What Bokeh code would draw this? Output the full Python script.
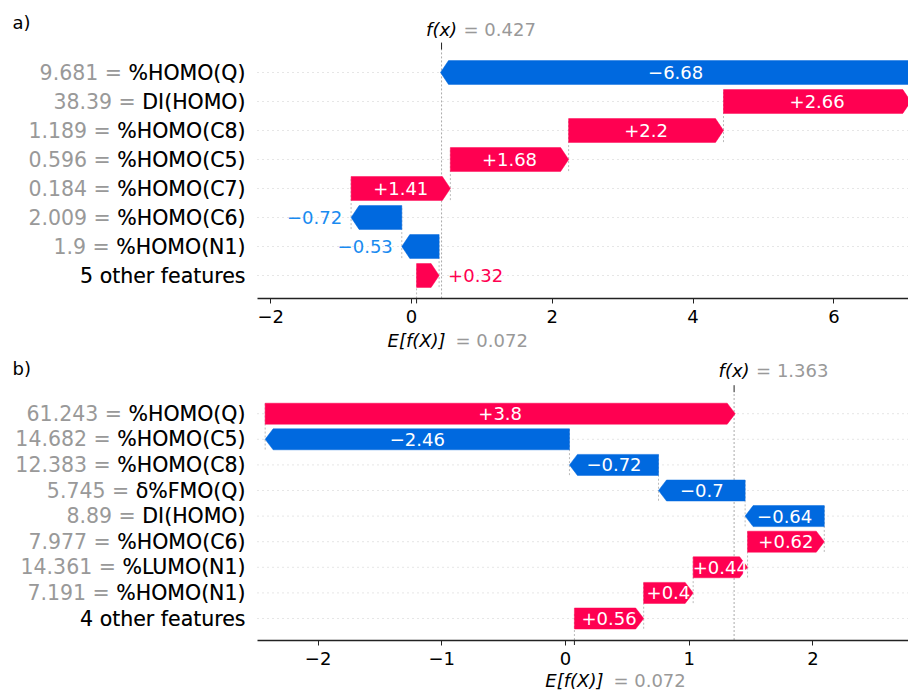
import math
from bokeh.plotting import figure
from bokeh.models import (ColumnDataSource, FixedTicker, LinearAxis, Range1d,
                          CustomJSTickFormatter)
from bokeh.layouts import column
from bokeh.core.properties import value
from bokeh.embed import file_html
from bokeh.resources import INLINE

# ---------------- data ----------------
# panel a)
a_feature_values = ["9.681", "38.39", "1.189", "0.596", "0.184", "2.009", "1.9", ""]
a_feature_names = ["%HOMO(Q)", "DI(HOMO)", "%HOMO(C8)", "%HOMO(C5)", "%HOMO(C7)",
                   "%HOMO(C6)", "%HOMO(N1)", "5 other features"]
a_shap = [-6.68, 2.66, 2.2, 1.68, 1.41, -0.72, -0.53, 0.32]
a_base = 0.072
a_fx = 0.427
a_ticks = [-2, 0, 2, 4, 6]

# panel b)
b_feature_values = ["61.243", "14.682", "12.383", "5.745", "8.89", "7.977", "14.361", "7.191", ""]
b_feature_names = ["%HOMO(Q)", "%HOMO(C5)", "%HOMO(C8)", "\u03b4%FMO(Q)", "DI(HOMO)",
                   "%HOMO(C6)", "%LUMO(N1)", "%HOMO(N1)", "4 other features"]
b_shap = [3.8, -2.46, -0.72, -0.7, -0.64, 0.62, 0.44, 0.4, 0.56]
b_base = 0.072
b_fx = 1.363
b_ticks = [-2, -1, 0, 1, 2]

# ---------------- style ----------------
RED = "#FF0051"
BLUE_BAR = "#0069DF"
BLUE_TXT = "#1A8BF0"
GRAY = "#999999"
FONT = "DejaVu Sans"
W = 908
MINUS = "\u2212"


def em_width(s):
    w = 0.0
    for ch in s:
        if ch in "+-\u2212=":
            w += 0.838
        elif ch == ".":
            w += 0.318
        else:
            w += 0.636
    return w


def fmt(v):
    return ("+" if v >= 0 else MINUS) + f"{abs(v):g}"


def build(tag, fvals, fnames, shap, base, fx, ticks, x_zero_px, ppu, H, row0_px, s,
          tag_dy, fx_dy, e_dy, data_left_px=257):
    n = len(shap)
    rows = [n - 1 - i for i in range(n)]
    starts = [0.0] * n
    ends = [0.0] * n
    loc = base
    for i in reversed(range(n)):
        starts[i] = loc
        loc += shap[i]
        ends[i] = loc

    # x range covers whole canvas; data area starts at data_left
    xr = (-x_zero_px / ppu, (W - x_zero_px) / ppu)
    data_left = (data_left_px - x_zero_px) / ppu
    yr = (-(H - row0_px) / s, row0_px / s)
    marg = 0.05 * (n - 0.2)
    axis_y = -0.4 - marg
    top_y = n - 1 + 0.4 + marg

    p = figure(width=W, height=H, x_range=Range1d(*xr), y_range=Range1d(*yr),
               output_backend="svg", toolbar_location=None,
               x_axis_location=None, y_axis_location=None,
               min_border=0)
    p.outline_line_color = None
    p.grid.visible = False

    hl = 8.0 / ppu
    h = 0.82

    # row dotted lines
    p.segment(x0=[data_left] * n, y0=rows, x1=[xr[1]] * n, y1=rows,
              line_color="#cccccc", line_dash="1 4", line_width=1)

    # connectors
    cx, cy0, cy1 = [], [], []
    for i in range(n - 1):
        cx.append(starts[i])
        cy0.append(rows[i] - 1 - 0.4)
        cy1.append(rows[i] + 0.4)
    p.segment(x0=cx, y0=cy0, x1=cx, y1=cy1, line_color="#bbbbbb",
              line_dash="2 2", line_width=1)

    # f(x) line and E[f(X)] line
    p.segment(x0=[fx], y0=[axis_y], x1=[fx], y1=[top_y], line_color="#aaaaaa",
              line_dash="2 2", line_width=1)
    p.segment(x0=[base], y0=[axis_y], x1=[base], y1=[axis_y + (top_y - axis_y) / n],
              line_color="#bbbbbb", line_dash="2 2", line_width=1)
    # f(x) tick above data area, E[f(X)] tick below axis
    p.ray(x=[fx], y=[top_y], length=7, length_units="screen", angle=math.pi / 2,
          line_color="#222222", line_width=1)
    p.ray(x=[base], y=[axis_y], length=5, length_units="screen", angle=-math.pi / 2,
          line_color="#222222", line_width=1)

    # arrows
    xs, ys, cols = [], [], []
    for i in range(n):
        x0, x1, y = starts[i], ends[i], rows[i]
        d = abs(x1 - x0)
        head = min(hl, d)
        sgn = 1 if x1 >= x0 else -1
        xb = x1 - sgn * head
        xs.append([x0, xb, x1, xb, x0])
        ys.append([y - h / 2, y - h / 2, y, y + h / 2, y + h / 2])
        cols.append(RED if shap[i] >= 0 else BLUE_BAR)
    p.patches(xs="xs", ys="ys", fill_color="c", line_color="c", line_width=0.5,
              source=ColumnDataSource(dict(xs=xs, ys=ys, c=cols)))

    # bar texts
    ins = dict(x=[], y=[], t=[])
    out_r = dict(x=[], y=[], t=[])
    out_l = dict(x=[], y=[], t=[])
    for i in range(n):
        t = fmt(shap[i])
        bar_px = abs(shap[i]) * ppu
        if em_width(t) * 17 <= bar_px:
            ins["x"].append((starts[i] + ends[i]) / 2)
            ins["y"].append(rows[i])
            ins["t"].append(t)
        elif shap[i] >= 0:
            out_r["x"].append(ends[i]); out_r["y"].append(rows[i]); out_r["t"].append(t)
        else:
            out_l["x"].append(ends[i]); out_l["y"].append(rows[i]); out_l["t"].append(t)
    common = dict(text_baseline="middle", text_font=value(FONT), text_font_size="18px")
    p.text(x="x", y="y", text="t", source=ColumnDataSource(ins), text_color="white",
           text_align="center", **common)
    p.text(x="x", y="y", text="t", source=ColumnDataSource(out_r), text_color=RED,
           text_align="left", x_offset=9, **common)
    p.text(x="x", y="y", text="t", source=ColumnDataSource(out_l), text_color=BLUE_TXT,
           text_align="right", x_offset=-9, **common)

    # feature labels (gray full text with black name drawn on top)
    full = [(v + " = " + nm) if v else nm for v, nm in zip(fvals, fnames)]
    lsrc = ColumnDataSource(dict(x=[data_left] * n, y=rows, full=full, name=fnames))
    lab = dict(x="x", y="y", source=lsrc, x_offset=-12, text_align="right",
               text_baseline="middle", text_font=value(FONT), text_font_size="20.5px")
    p.text(text="full", text_color=GRAY, **lab)
    p.text(text="name", text_color="black", **lab)

    # bottom axis
    ax = LinearAxis(fixed_location=axis_y, bounds=(data_left, xr[1]),
                    ticker=FixedTicker(ticks=ticks))
    ax.formatter = CustomJSTickFormatter(code="""
        return tick < 0 ? "\\u2212" + (-tick) : "" + tick;
    """)
    ax.axis_line_color = "#222222"
    ax.axis_line_width = 1.5
    ax.major_tick_line_color = "#222222"
    ax.major_tick_in = 0
    ax.major_tick_out = 5
    ax.minor_tick_line_color = None
    ax.major_label_text_font = FONT
    ax.major_label_text_font_size = "18px"
    ax.major_label_text_color = "black"
    ax.major_label_standoff = 7
    p.add_layout(ax, "below")

    tcommon = dict(text_baseline="middle", text_font=value(FONT), text_font_size="18px")
    # f(x) label
    p.text(x=[fx], y=[top_y], text=["f(x)"], y_offset=fx_dy, text_align="center",
           text_font_style="italic", text_color="black", **tcommon)
    p.text(x=[fx], y=[top_y], text=["= %.3f" % fx], x_offset=22, y_offset=fx_dy,
           text_align="left", text_color=GRAY, **tcommon)
    # E[f(X)] label
    p.text(x=[base], y=[axis_y], text=["E[f(X)]"], y_offset=e_dy, text_align="center",
           text_font_style="italic", text_color="black", **tcommon)
    p.text(x=[base], y=[axis_y], text=["= %.3f" % base], x_offset=39, y_offset=e_dy,
           text_align="left", text_color=GRAY, **tcommon)
    # panel tag
    p.text(x=[xr[0]], y=[top_y], text=[tag], x_offset=12, y_offset=tag_dy,
           text_align="left", text_color="black", **tcommon)
    return p


# panel a: zero at x=411 px, 70.4 px/unit, row 0 at y=275, rows 29 px apart
pa = build("a)", a_feature_values, a_feature_names, a_shap, a_base, a_fx, a_ticks,
           411, 70.4, 352, 275, 29.0, -27, -20, 42)
# panel b (starts at page y=352): zero at x=565 px, 123.7 px/unit,
# row 0 at y=266 within the panel, rows 25.6 px apart
pb = build("b)", b_feature_values, b_feature_names, b_shap, b_base, b_fx, b_ticks,
           565, 123.7, 338, 266, 25.6, -24, -22, 40)

layout = column(pa, pb, spacing=0)
open("out.html", "w").write(file_html(layout, INLINE))
